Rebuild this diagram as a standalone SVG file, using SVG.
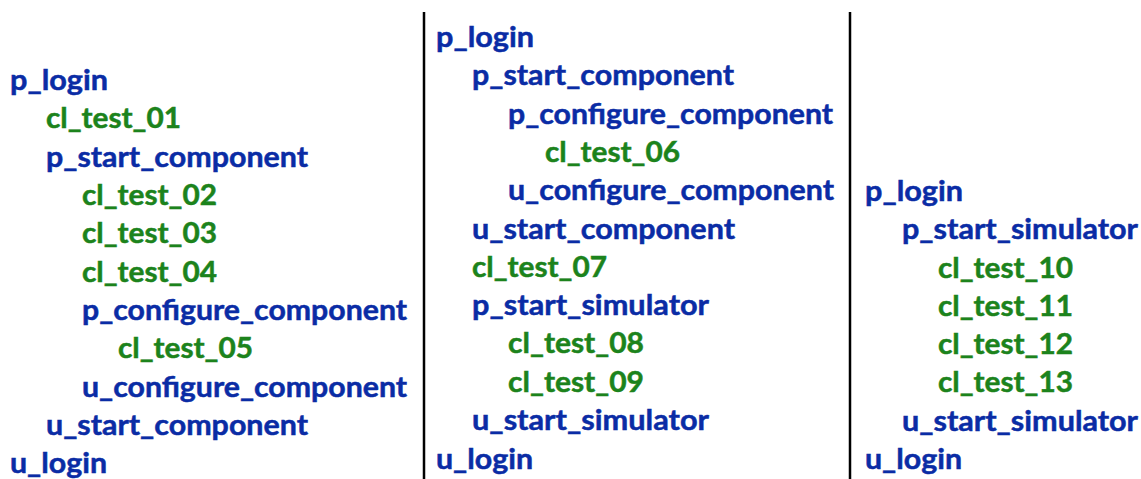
<svg xmlns="http://www.w3.org/2000/svg" width="1141" height="479" viewBox="0 0 1141 479">
<style>
text{font-family:"Lato","Liberation Sans",sans-serif;font-weight:bold;font-size:29px;stroke-width:0.5px}
.b{fill:#0a2ca5;stroke:#0a2ca5}
.g{fill:#1c831c;stroke:#1c831c}
.div{stroke:#000;stroke-width:2.5}
</style>
<rect width="1141" height="479" fill="#fff"/>
<g id="dividers">
<line class="div" x1="424" y1="12" x2="424" y2="479"/>
<line class="div" x1="850" y1="12" x2="850" y2="479"/>
</g>
<g id="col1">
<g id="c1_p_login"><text class="b" x="10" y="90" textLength="98" lengthAdjust="spacingAndGlyphs">p_login</text></g>
<g id="c1_cl_test_01"><text class="g" x="46" y="128" textLength="135" lengthAdjust="spacingAndGlyphs">cl_test_01</text></g>
<g id="c1_p_start_component"><text class="b" x="46" y="167" textLength="262" lengthAdjust="spacingAndGlyphs">p_start_component</text></g>
<g id="c1_cl_test_02"><text class="g" x="82" y="205" textLength="135" lengthAdjust="spacingAndGlyphs">cl_test_02</text></g>
<g id="c1_cl_test_03"><text class="g" x="82" y="243" textLength="135" lengthAdjust="spacingAndGlyphs">cl_test_03</text></g>
<g id="c1_cl_test_04"><text class="g" x="82" y="282" textLength="135" lengthAdjust="spacingAndGlyphs">cl_test_04</text></g>
<g id="c1_p_configure_component"><text class="b" x="82" y="320" textLength="325" lengthAdjust="spacingAndGlyphs">p_configure_component</text></g>
<g id="c1_cl_test_05"><text class="g" x="118" y="358" textLength="135" lengthAdjust="spacingAndGlyphs">cl_test_05</text></g>
<g id="c1_u_configure_component"><text class="b" x="82" y="397" textLength="325" lengthAdjust="spacingAndGlyphs">u_configure_component</text></g>
<g id="c1_u_start_component"><text class="b" x="46" y="435" textLength="262" lengthAdjust="spacingAndGlyphs">u_start_component</text></g>
<g id="c1_u_login"><text class="b" x="10" y="473" textLength="97" lengthAdjust="spacingAndGlyphs">u_login</text></g>
</g>
<g id="col2">
<g id="c2_p_login"><text class="b" x="436" y="47" textLength="98" lengthAdjust="spacingAndGlyphs">p_login</text></g>
<g id="c2_p_start_component"><text class="b" x="472" y="85" textLength="262" lengthAdjust="spacingAndGlyphs">p_start_component</text></g>
<g id="c2_p_configure_component"><text class="b" x="508" y="124" textLength="325" lengthAdjust="spacingAndGlyphs">p_configure_component</text></g>
<g id="c2_cl_test_06"><text class="g" x="545" y="162" textLength="135" lengthAdjust="spacingAndGlyphs">cl_test_06</text></g>
<g id="c2_u_configure_component"><text class="b" x="508" y="200" textLength="326" lengthAdjust="spacingAndGlyphs">u_configure_component</text></g>
<g id="c2_u_start_component"><text class="b" x="472" y="239" textLength="263" lengthAdjust="spacingAndGlyphs">u_start_component</text></g>
<g id="c2_cl_test_07"><text class="g" x="472" y="277" textLength="135" lengthAdjust="spacingAndGlyphs">cl_test_07</text></g>
<g id="c2_p_start_simulator"><text class="b" x="472" y="315" textLength="237" lengthAdjust="spacingAndGlyphs">p_start_simulator</text></g>
<g id="c2_cl_test_08"><text class="g" x="508" y="353" textLength="136" lengthAdjust="spacingAndGlyphs">cl_test_08</text></g>
<g id="c2_cl_test_09"><text class="g" x="508" y="392" textLength="136" lengthAdjust="spacingAndGlyphs">cl_test_09</text></g>
<g id="c2_u_start_simulator"><text class="b" x="472" y="430" textLength="237" lengthAdjust="spacingAndGlyphs">u_start_simulator</text></g>
<g id="c2_u_login"><text class="b" x="436" y="469" textLength="97" lengthAdjust="spacingAndGlyphs">u_login</text></g>
</g>
<g id="col3">
<g id="c3_p_login"><text class="b" x="865" y="201" textLength="98" lengthAdjust="spacingAndGlyphs">p_login</text></g>
<g id="c3_p_start_simulator"><text class="b" x="902" y="239" textLength="236" lengthAdjust="spacingAndGlyphs">p_start_simulator</text></g>
<g id="c3_cl_test_10"><text class="g" x="938" y="278" textLength="135" lengthAdjust="spacingAndGlyphs">cl_test_10</text></g>
<g id="c3_cl_test_11"><text class="g" x="938" y="316" textLength="135" lengthAdjust="spacingAndGlyphs">cl_test_11</text></g>
<g id="c3_cl_test_12"><text class="g" x="938" y="354" textLength="135" lengthAdjust="spacingAndGlyphs">cl_test_12</text></g>
<g id="c3_cl_test_13"><text class="g" x="938" y="392" textLength="135" lengthAdjust="spacingAndGlyphs">cl_test_13</text></g>
<g id="c3_u_start_simulator"><text class="b" x="902" y="431" textLength="236" lengthAdjust="spacingAndGlyphs">u_start_simulator</text></g>
<g id="c3_u_login"><text class="b" x="865" y="469" textLength="97" lengthAdjust="spacingAndGlyphs">u_login</text></g>
</g>
</svg>
